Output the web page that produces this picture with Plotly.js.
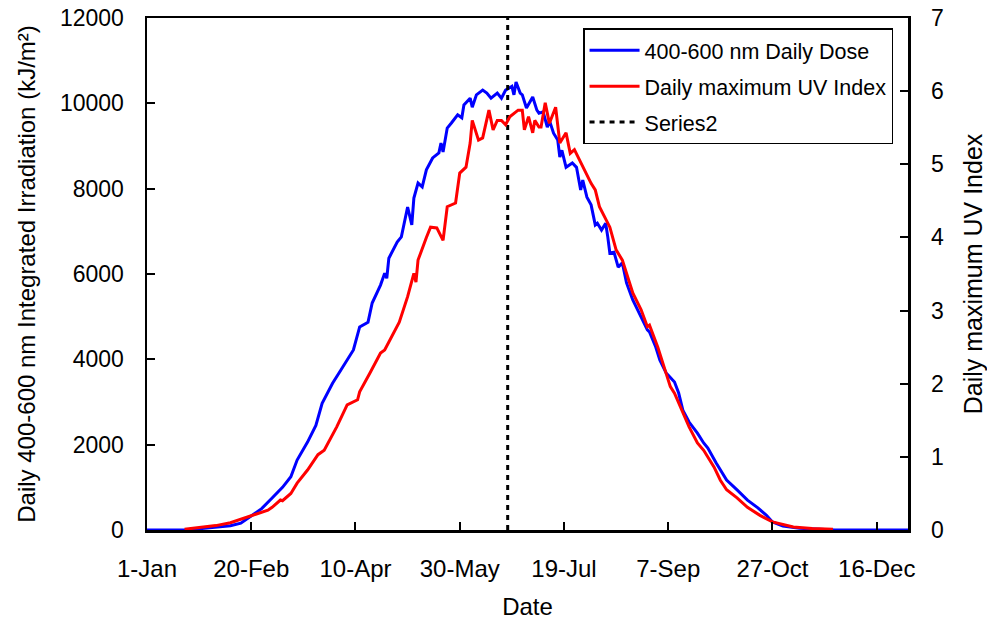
<!DOCTYPE html>
<html>
<head>
<meta charset="utf-8">
<script src="https://cdn.plot.ly/plotly-3.0.1.min.js"></script>
<style>html,body{margin:0;padding:0;background:#fff;}#chart{width:987px;height:622px;}</style>
</head>
<body>
<div id="chart"></div>
<script>
// Day of year (0 = 1 Jan 2008) and 400-600 nm daily dose (kJ/m2)
const doseDays = [0,10,18,30,40,45,49,55,60,65,69,72,77,81,84,89,93,96,99,102,106,108,112,114,115,116,120,122,124,125,127,128,130,132,134,137,140,141,142,144,146,148,149,151,152,155,156,158,161,163,165,168,170,172,175,176,177,179,180,182,185,187,188,190,192,193,195,197,198,199,201,204,206,208,209,211,213,215,216,218,220,221,222,224,226,228,230,233,236,240,241,244,246,249,252,253,255,257,260,264,267,269,273,278,283,288,293,297,300,305,313,323,330,340,365];
const doseValues = [0,0,0,50,100,160,300,500,750,1000,1250,1640,2060,2450,2970,3440,3750,3980,4220,4760,4870,5320,5740,6020,5900,6370,6750,6870,7310,7570,7150,7780,8130,8040,8440,8720,8840,9070,8860,9420,9540,9660,9730,9660,9960,10120,9910,10200,10310,10240,10120,10240,10120,10310,10400,10200,10500,10240,10200,9890,10150,9840,9770,9800,9440,9600,9300,9140,8740,8900,8500,8600,8500,7970,8200,7800,7620,7150,7190,7030,7190,6870,6490,6510,6160,6260,5790,5390,5090,4690,4640,4290,3980,3680,3520,3470,3210,2810,2530,2270,2040,1920,1570,1170,940,700,520,350,190,90,40,10,0,0,0];

// Day of year and daily maximum UV index
const uvDays = [18,25,33,40,49,55,58,60,64,65,69,72,77,82,85,91,96,101,102,107,112,114,120,121,125,128,129,130,134,136,139,142,144,148,150,153,155,156,159,161,164,166,168,170,172,174,178,180,181,183,185,186,188,189,191,193,196,198,201,203,205,208,210,213,215,217,222,225,228,231,233,237,240,241,245,248,251,253,257,260,264,267,272,275,278,283,288,294,300,310,319,329];
const uvValues = [0.01,0.03,0.06,0.1,0.18,0.24,0.27,0.31,0.41,0.4,0.5,0.64,0.82,1.03,1.09,1.41,1.71,1.78,1.89,2.15,2.42,2.46,2.78,2.84,3.19,3.51,3.39,3.69,4.0,4.14,4.13,3.96,4.42,4.47,4.88,4.96,5.29,5.6,5.33,5.36,5.74,5.47,5.6,5.6,5.54,5.65,5.74,5.74,5.47,5.65,5.43,5.6,5.51,5.51,5.84,5.56,5.78,5.29,5.43,5.15,5.2,5.02,4.92,4.74,4.65,4.42,4.14,3.83,3.69,3.42,3.24,3.01,2.78,2.8,2.5,2.23,1.96,1.87,1.6,1.41,1.19,1.09,0.86,0.68,0.55,0.44,0.31,0.2,0.11,0.04,0.02,0.01];

// Vertical marker (summer solstice)
const markerDay = 173;
const markerY = [0, 12000];

const xTickStartDay = 0;
const xTickStepDays = 50;

function dayToDate(d) {
  const t = new Date(Date.UTC(2008, 0, 1) + d * 86400000);
  return t.toISOString().slice(0, 10);
}

const FONT = 'Liberation Sans, Arial, sans-serif';

const traces = [
  {
    x: doseDays.map(dayToDate), y: doseValues,
    type: 'scatter', mode: 'lines', name: '400-600 nm Daily Dose',
    line: {color: '#0000FF', width: 3}, yaxis: 'y', legendgroup: 'a'
  },
  {
    x: uvDays.map(dayToDate), y: uvValues,
    type: 'scatter', mode: 'lines', name: 'Daily maximum UV Index',
    line: {color: '#FF0000', width: 3}, yaxis: 'y2', legendgroup: 'b'
  },
  {
    x: [dayToDate(markerDay), dayToDate(markerDay)], y: markerY,
    type: 'scatter', mode: 'lines', name: 'Series2',
    line: {color: '#000000', width: 3, dash: '5px,5px'}, yaxis: 'y', legendgroup: 'c'
  }
];

const layout = {
  width: 987, height: 622,
  margin: {l: 147, r: 79, t: 18, b: 92},
  paper_bgcolor: '#fff', plot_bgcolor: '#fff',
  font: {family: FONT, size: 23, color: '#000'},
  showlegend: true,
  legend: {
    x: 0.573, y: 0.98, xanchor: 'left', yanchor: 'top',
    bgcolor: '#fff', bordercolor: '#000', borderwidth: 1.5,
    font: {family: FONT, size: 21.5, color: '#000'},
    itemwidth: 50,
    tracegroupgap: 5
  },
  xaxis: {
    type: 'date',
    range: [dayToDate(0), dayToDate(365)],
    tick0: dayToDate(xTickStartDay), dtick: xTickStepDays * 86400000,
    tickformat: '%-d-%b',
    tickfont: {family: FONT, size: 24},
    ticks: 'inside', ticklen: 8, tickwidth: 2, tickcolor: '#000',
    showline: true, linecolor: '#000', linewidth: 2.5, mirror: true,
    showgrid: false, zeroline: false,
    ticklabelstandoff: 16,
    title: {text: 'Date', font: {family: FONT, size: 24}, standoff: 17}
  },
  yaxis: {
    range: [0, 12000], dtick: 2000, tick0: 0, tickformat: 'd',
    tickfont: {family: FONT, size: 23},
    ticks: 'inside', ticklen: 8, tickwidth: 2, tickcolor: '#000',
    showline: true, linecolor: '#000', linewidth: 2.5,
    showgrid: false, zeroline: false,
    ticklabelstandoff: 16,
    automargin: 'left',
    title: {text: 'Daily 400-600 nm Integrated Irradiation (kJ/m²)', font: {family: FONT, size: 24}, standoff: 18}
  },
  yaxis2: {
    overlaying: 'y', side: 'right',
    range: [0, 7], dtick: 1, tick0: 0, tickformat: 'd',
    tickfont: {family: FONT, size: 23},
    ticks: 'inside', ticklen: 8, tickwidth: 2, tickcolor: '#000',
    showline: true, linecolor: '#000', linewidth: 2.5,
    showgrid: false, zeroline: false,
    ticklabelstandoff: 16,
    title: {text: 'Daily maximum UV Index', font: {family: FONT, size: 25}}
  }
};

Plotly.newPlot('chart', traces, layout, {displayModeBar: false, staticPlot: true});
</script>
</body>
</html>
